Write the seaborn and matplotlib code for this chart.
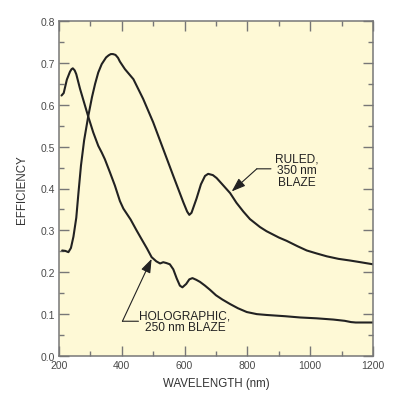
import numpy as np
import pandas as pd
import matplotlib
matplotlib.use("Agg")
import matplotlib.pyplot as plt
import seaborn as sns
from matplotlib.ticker import MultipleLocator, FormatStrFormatter

# ---- data ----
ruled_wl = [210, 220, 230, 238, 246, 255, 262, 270, 280, 293, 305, 315, 325, 336,
            350, 358, 365, 372, 380, 388, 394, 410, 437, 468, 500, 532, 564, 596, 608,
            615, 622, 638, 652, 665, 675, 690, 702, 720, 745, 765, 787, 808, 840, 861,
            900, 925, 960, 989, 1020, 1053, 1090, 1127, 1160, 1200]
ruled_eff = [0.252, 0.251, 0.248, 0.258, 0.285, 0.33, 0.39, 0.455, 0.515, 0.572, 0.618,
             0.65, 0.677, 0.697, 0.713, 0.718, 0.721, 0.721, 0.719, 0.712, 0.703, 0.685,
             0.661, 0.614, 0.558, 0.494, 0.43, 0.367, 0.345, 0.337, 0.342, 0.376, 0.41,
             0.43, 0.435, 0.432, 0.425, 0.41, 0.389, 0.366, 0.345, 0.327, 0.308, 0.298,
             0.283, 0.275, 0.262, 0.252, 0.245, 0.238, 0.232, 0.228, 0.224, 0.219]

holo_wl = [208, 215, 225, 235, 240, 244, 250, 255, 267, 280, 293, 309, 325, 336, 346,
           362, 378, 394, 405, 428, 447, 463, 480, 495, 510, 522, 532, 542, 553, 564,
           575, 585, 593, 605, 615, 625, 637, 649, 665, 681, 700, 720, 745, 770,
           798, 830, 861, 920, 968, 1020, 1074, 1110, 1130, 1145, 1200]
holo_eff = [0.622, 0.628, 0.66, 0.679, 0.685, 0.687, 0.682, 0.673, 0.638, 0.605, 0.572,
            0.534, 0.502, 0.486, 0.47, 0.439, 0.407, 0.37, 0.352, 0.326, 0.30, 0.279,
            0.257, 0.236, 0.226, 0.221, 0.224, 0.222, 0.219, 0.207, 0.185, 0.168, 0.164,
            0.172, 0.183, 0.186, 0.182, 0.177, 0.168, 0.158, 0.145, 0.135, 0.124, 0.114,
            0.105, 0.10, 0.098, 0.095, 0.092, 0.09, 0.087, 0.084, 0.081, 0.08, 0.08]

x_ticks = [200, 400, 600, 800, 1000, 1200]
y_ticks = [0.0, 0.1, 0.2, 0.3, 0.4, 0.5, 0.6, 0.7, 0.8]

ruled_label = "RULED,\n350 nm\nBLAZE"
holo_label = "HOLOGRAPHIC,\n250 nm BLAZE"

# ---- styling ----
sns.set_theme(style="ticks")
plt.rcParams['font.family'] = ['Liberation Sans', 'DejaVu Sans']

bg = "#FEF9D6"
line_col = "#222222"
axis_col = "#777777"
tick_lab_col = "#4a4a4a"
label_col = "#333333"

fig = plt.figure(figsize=(4.0, 4.06), dpi=100)
ax = fig.add_axes([59 / 400, 49 / 406, 314 / 400, 335 / 406])
ax.set_facecolor(bg)

ruled_df = pd.DataFrame({"wavelength": ruled_wl, "efficiency": ruled_eff})
holo_df = pd.DataFrame({"wavelength": holo_wl, "efficiency": holo_eff})

sns.lineplot(data=ruled_df, x="wavelength", y="efficiency", ax=ax,
             color=line_col, linewidth=1.5, sort=True)
sns.lineplot(data=holo_df, x="wavelength", y="efficiency", ax=ax,
             color=line_col, linewidth=1.5, sort=True)

ax.set_xlim(200, 1200)
ax.set_ylim(0.0, 0.8)
ax.set_xticks(x_ticks)
ax.set_yticks(y_ticks)
ax.xaxis.set_minor_locator(MultipleLocator(100))
ax.yaxis.set_minor_locator(MultipleLocator(0.05))
ax.yaxis.set_major_formatter(FormatStrFormatter('%.1f'))

ax.tick_params(which='both', direction='in', top=True, right=True,
               color=axis_col, labelcolor=tick_lab_col, labelsize=7.5)
ax.tick_params(which='major', length=7.5, width=1.0, pad=3)
ax.tick_params(which='minor', length=3.3, width=1.0)

for s in ax.spines.values():
    s.set_color(axis_col)
    s.set_linewidth(1.1)

ax.set_xlabel("WAVELENGTH (nm)", fontsize=8.3, color=label_col, labelpad=5)
ax.set_ylabel("EFFICIENCY", fontsize=8.3, color=label_col, labelpad=9)

# ---- annotations ----
ann_fs = 8.6
arrow_kw = dict(arrowstyle='-|>,head_length=0.7,head_width=0.25',
                color=line_col, lw=0.8, shrinkA=0, shrinkB=0)
leader_kw = dict(arrowstyle='-', color=line_col, lw=0.8, shrinkA=0, shrinkB=0)

# ruled
ax.text(957, 0.443, ruled_label, ha='center', va='center', fontsize=ann_fs,
        color=line_col, linespacing=0.95)
ax.annotate("", xy=(830, 0.447), xytext=(875, 0.447), arrowprops=leader_kw)
ax.annotate("", xy=(750, 0.393), xytext=(830, 0.447), arrowprops=arrow_kw)

# holographic
ax.text(601, 0.083, holo_label, ha='center', va='center', fontsize=ann_fs,
        color=line_col, linespacing=0.95)
ax.annotate("", xy=(402, 0.083), xytext=(453, 0.083), arrowprops=leader_kw)
ax.annotate("", xy=(495, 0.232), xytext=(402, 0.083), arrowprops=arrow_kw)

fig.savefig("out.png", dpi=100, facecolor="white")
